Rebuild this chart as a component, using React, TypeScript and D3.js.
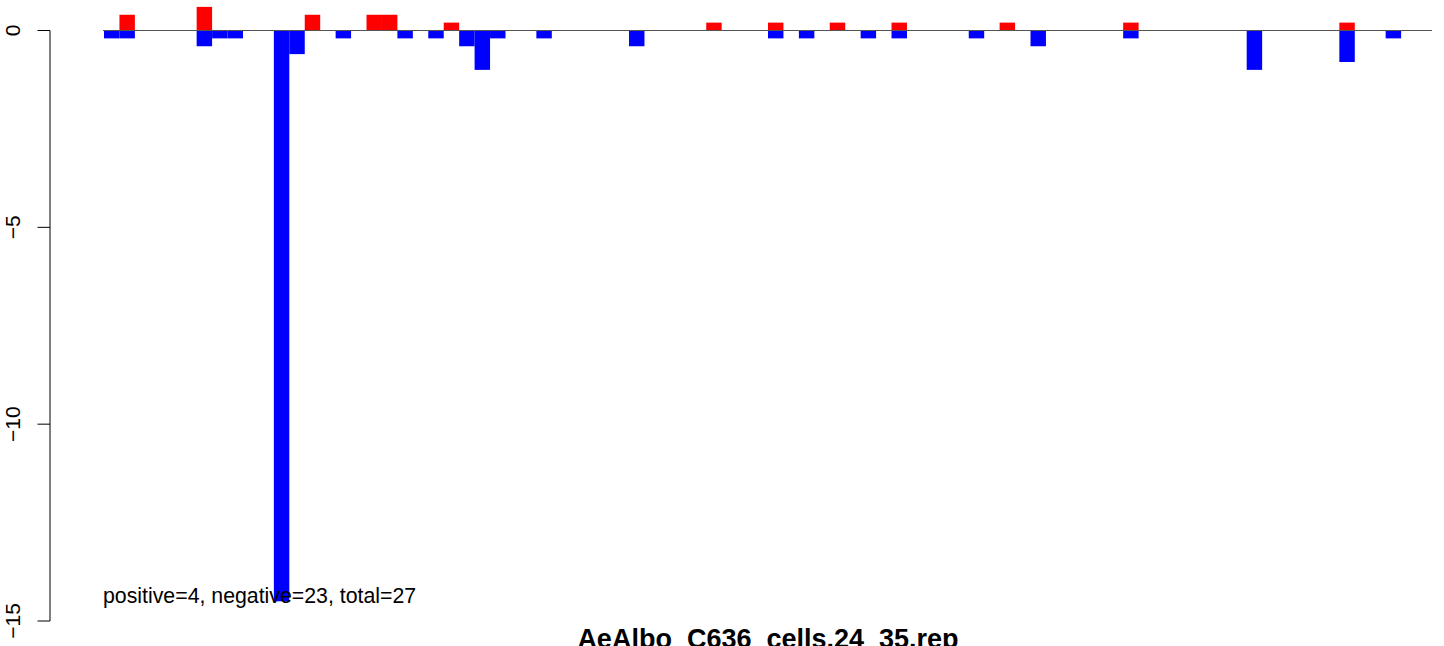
import { scaleLinear } from 'd3'

// slot index along the x axis (86 slots, no gap) and bar heights
const slotCount = 86
const posSlots = [1, 6, 13, 17, 18, 22, 39, 43, 47, 51, 58, 66, 80]
const posValues = [0.4, 0.6, 0.4, 0.4, 0.4, 0.2, 0.2, 0.2, 0.2, 0.2, 0.2, 0.2, 0.2]
const negSlots = [0, 1, 6, 7, 8, 11, 12, 15, 19, 21, 23, 24, 25, 28, 34, 43, 45, 49, 51, 56, 60, 66, 74, 80, 83]
const negValues = [
  -0.2, -0.2, -0.4, -0.2, -0.2, -14.5, -0.6, -0.2, -0.2, -0.2, -0.4, -1.0, -0.2, -0.2, -0.4, -0.2, -0.2, -0.2, -0.2,
  -0.2, -0.4, -0.2, -1.0, -0.8, -0.2,
]
const yTicks = [0, -5, -10, -15]
const title = 'AeAlbo_C636_cells.24_35.rep'
const note = 'positive=4, negative=23, total=27'

const W = 1444
const H = 646
const font = 'Liberation Sans, Arial, Helvetica, sans-serif'

export default function App() {
  const x = scaleLinear().domain([0, slotCount]).range([104, 1432])
  const y = scaleLinear().domain([0, -15]).range([30.5, 621])
  const bw = x(1) - x(0)
  const axisX = 50

  return (
    <svg width={W} height={H} style={{ position: 'absolute', left: 0, top: 0, background: '#fff' }}>
      {posSlots.map((s, i) => (
        <rect key={'p' + i} x={x(s)} y={y(posValues[i])} width={bw} height={y(0) - y(posValues[i])} fill="#ff0000" />
      ))}
      {negSlots.map((s, i) => (
        <rect key={'n' + i} x={x(s)} y={y(0)} width={bw} height={y(negValues[i]) - y(0)} fill="#0000ff" />
      ))}
      <line x1={x(0) - 1} x2={x(slotCount)} y1={y(0)} y2={y(0)} stroke="#555" strokeWidth={1.2} />

      {/* y axis */}
      <line x1={axisX} x2={axisX} y1={y(0)} y2={y(-15)} stroke="#000" strokeWidth={1} />
      {yTicks.map((t) => (
        <g key={t}>
          <line x1={axisX - 12.5} x2={axisX} y1={y(t)} y2={y(t)} stroke="#000" strokeWidth={1} />
          <text
            transform={`translate(20,${y(t)}) rotate(-90)`}
            textAnchor="middle"
            fontFamily={font}
            fontSize={21}
            fill="#000"
          >
            {t < 0 ? '\u2212' + Math.abs(t) : t}
          </text>
        </g>
      ))}

      <text x={103} y={603} fontFamily={font} fontSize={21.3} fill="#000">
        {note}
      </text>
      <text x={768} y={648} textAnchor="middle" fontFamily={font} fontSize={27} fontWeight="bold" fill="#000">
        {title}
      </text>
    </svg>
  )
}
